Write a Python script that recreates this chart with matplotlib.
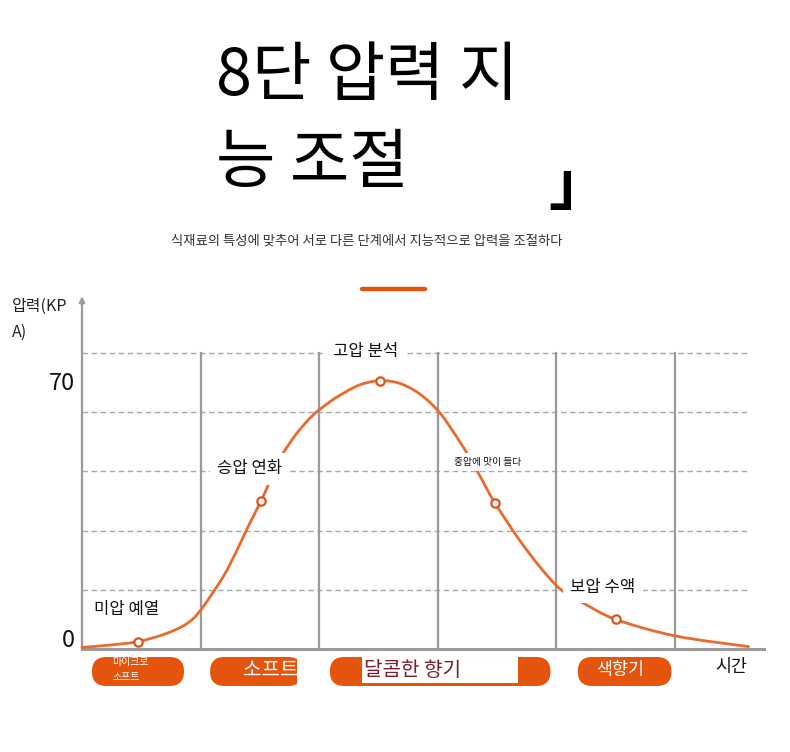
import matplotlib.pyplot as plt
from matplotlib.patches import FancyBboxPatch, Rectangle, PathPatch
from matplotlib.path import Path
from matplotlib.lines import Line2D

plt.rcParams['font.family'] = ['Noto Sans CJK KR', 'DejaVu Sans']

# pressure curve (time in stage units, pressure in kPa)
t_curve = [0.0, 0.2, 0.47, 0.70, 0.88, 1.00, 1.19, 1.30, 1.39, 1.51, 1.57, 1.68,
           1.78, 1.87, 1.95, 2.00, 2.09, 2.18, 2.34, 2.51, 2.68, 2.85, 3.01, 3.13,
           3.26, 3.40, 3.48, 3.67, 3.86, 4.04, 4.23, 4.50, 5.00, 5.62]
p_curve = [0.5, 1.0, 2.0, 4.0, 6.6, 10.2, 18.9, 25.4, 31.3, 38.7, 42.8, 50.2,
           55.0, 58.5, 61.1, 62.4, 64.5, 66.3, 68.9, 70.0, 69.3, 66.5, 61.9, 56.7,
           50.4, 42.6, 38.2, 29.3, 21.5, 15.5, 12.0, 7.8, 3.5, 0.7]

# marked stages
t_mark = [0.47, 1.51, 2.51, 3.48, 4.50]
p_mark = [2.0, 38.7, 70.0, 38.2, 7.8]
stage_names = ['미압 예열', '승압 연화', '고압 분석', '중압에 맛이 들다', '보압 수액']

y_tick_vals = [0, 70]
grid_step = 15.45
n_grid = 5
n_cols = 5
pills = ['마이크로\n소프트', '소프트', '달콤한 향기', '색향기']

title = '8단 압력 지\n능 조절'
subtitle = '식재료의 특성에 맞추어 서로 다른 단계에서 지능적으로 압력을 조절하다'

W, H = 790, 752
fig = plt.figure(figsize=(W / 100, H / 100), dpi=100)

# axes placed so that t=0 is at x=82px and p=0 at y=649px
px_t = 118.6
px_p = 3.837
x0, y0 = 82, 649.3
xmax, ymax = 5.75, 91
ax = fig.add_axes([x0 / W, (H - y0) / H, xmax * px_t / W, ymax * px_p / H])
ax.set_xlim(0, xmax)
ax.set_ylim(0, ymax)
ax.axis('off')

gray = '#9a9a9a'
orange = '#e4540c'
curve_c = '#e86a2c'

# grid
for i in range(1, n_grid + 1):
    ax.plot([0, 5.62], [i * grid_step] * 2, color='#a8a8a8', lw=1,
            dashes=(4, 2.5), zorder=1)
for i in range(1, n_cols + 1):
    ax.plot([i, i], [0, n_grid * grid_step], color=gray, lw=1.6, zorder=1)
ax.plot([0, xmax], [0, 0], color=gray, lw=2.2, zorder=2, clip_on=False)
ax.annotate('', xy=(0, 92), xytext=(0, 0),
            arrowprops=dict(arrowstyle='-|>', color=gray, lw=1.6,
                            mutation_scale=8, shrinkA=0, shrinkB=0),
            zorder=2, annotation_clip=False)

# curve drawn as a smooth bezier through the read points
verts = [(t_curve[0], p_curve[0])]
codes = [Path.MOVETO]
n = len(t_curve)
for i in range(n - 1):
    a = max(i - 1, 0)
    d = min(i + 2, n - 1)
    c1 = (t_curve[i] + (t_curve[i + 1] - t_curve[a]) / 6,
          p_curve[i] + (p_curve[i + 1] - p_curve[a]) / 6)
    c2 = (t_curve[i + 1] - (t_curve[d] - t_curve[i]) / 6,
          p_curve[i + 1] - (p_curve[d] - p_curve[i]) / 6)
    verts += [c1, c2, (t_curve[i + 1], p_curve[i + 1])]
    codes += [Path.CURVE4] * 3
ax.add_patch(PathPatch(Path(verts, codes), fc='none', ec=curve_c, lw=2,
                       zorder=3, clip_on=False, capstyle='round'))
ax.plot(t_mark, p_mark, 'o', ms=6, mfc='white', mec='#dc5418', mew=1.6,
        zorder=4, clip_on=False)

# stage labels with white boxes
label_pos = [(0.375, 10.5), (1.415, 47.0), (2.395, 77.5), (3.42, 48.8), (4.39, 16.2)]
label_size = [12, 12, 12, 7, 12]
for name, (lx, ly), fs in zip(stage_names, label_pos, label_size):
    ax.text(lx, ly, name, ha='center', va='center', fontsize=fs, color='#111',
            zorder=5, bbox=dict(boxstyle='square,pad=0.45', fc='white', ec='none'))

# y labels
ax.text(-0.06, y_tick_vals[1] - 0.6, str(y_tick_vals[1]), ha='right', va='center',
        fontsize=17, color='#111', clip_on=False)
ax.text(-0.06, y_tick_vals[0] + 2.2, str(y_tick_vals[0]), ha='right', va='center',
        fontsize=17, color='#111', clip_on=False)
ax.text(-0.59, 89.5, '압력(KP', ha='left', va='center', fontsize=11.5, color='#222',
        clip_on=False)
ax.text(-0.59, 82.7, 'A)', ha='left', va='center', fontsize=11.5, color='#222',
        clip_on=False)
ax.text(5.47, -4.6, '시간', ha='center', va='center', fontsize=12.5, color='#111',
        clip_on=False)

# stage pills under the axis
aspect = (1 / px_p) / (1 / px_t)
pill_x = [(0.084, 0.86), (1.08, 1.86), (2.09, 3.95), (4.18, 4.97)]
pb, pt = -9.56, -2.0
for (a, b) in pill_x:
    ax.add_patch(FancyBboxPatch((a, pb), b - a, pt - pb,
                                boxstyle='round,pad=0,rounding_size=0.122',
                                mutation_aspect=aspect, fc=orange, ec='none',
                                clip_on=False, zorder=2))

# cut-off end of the second pill and white block behind the third label
ax.add_patch(Rectangle((1.815, -10.5), 0.1, 9.0, fc='white', ec='none',
                       clip_on=False, zorder=3))
ax.add_patch(Rectangle((2.36, -8.9), 1.32, 6.9, fc='white', ec='none',
                       clip_on=False, zorder=3))

ax.text(0.253, -3.3, pills[0].split('\n')[0], ha='left', va='center', fontsize=7.2,
        color='white', clip_on=False, zorder=4)
ax.text(0.253, -7.2, pills[0].split('\n')[1], ha='left', va='center', fontsize=7.2,
        color='white', clip_on=False, zorder=4)
ax.text(1.358, -5.5, pills[1], ha='left', va='center', fontsize=14.5,
        color='white', clip_on=False, zorder=4)
ax.text(2.38, -5.5, pills[2], ha='left', va='center', fontsize=14.5,
        color='#7a1c2c', clip_on=False, zorder=4)
ax.text(4.54, -5.5, pills[3], ha='center', va='center', fontsize=12.5,
        color='white', clip_on=False, zorder=4)

# header
lines = title.split('\n')
fig.text(216 / W, 1 - 77 / H, lines[0], ha='left', va='center', fontsize=46.5,
         color='black')
fig.text(216 / W, 1 - 164 / H, lines[1], ha='left', va='center', fontsize=46.5,
         color='black')
fig.text(579 / W, 1 - 187 / H, '」', ha='center', va='center', fontsize=44,
         fontweight='bold', color='black')
fig.text(367 / W, 1 - 241 / H, subtitle, ha='center', va='center', fontsize=9.6,
         color='#333')
fig.add_artist(Line2D([362 / W, 425 / W], [1 - 289 / H] * 2, color=orange, lw=3.2,
                      solid_capstyle='round'))

fig.savefig('out.png', dpi=100)
